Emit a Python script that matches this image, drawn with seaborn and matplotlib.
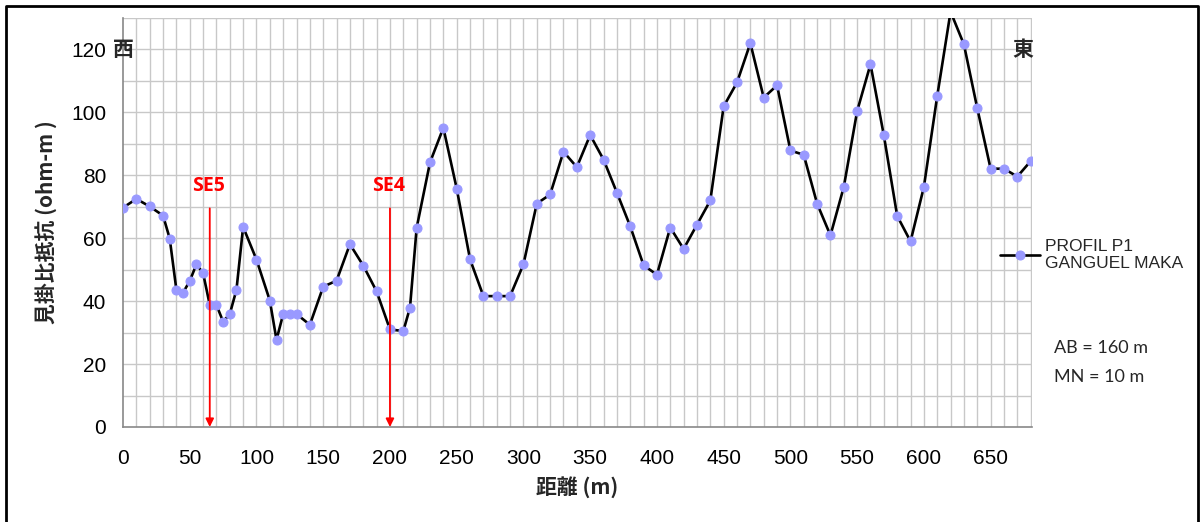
import matplotlib
matplotlib.use("Agg")
import matplotlib.pyplot as plt
import seaborn as sns
import pandas as pd
from matplotlib.lines import Line2D

# ---- data ----
distance_m = [0, 10, 20, 30, 35, 40, 45, 50, 55, 60, 65, 70, 75, 80, 85, 90, 100,
              110, 115, 120, 125, 130, 140, 150, 160, 170, 180, 190, 200, 210, 215,
              220, 230, 240, 250, 260, 270, 280, 290, 300, 310, 320, 330, 340, 350,
              360, 370, 380, 390, 400, 410, 420, 430, 440, 450, 460, 470, 480, 490,
              500, 510, 520, 530, 540, 550, 560, 570, 580, 590, 600, 610, 620, 630,
              640, 650, 660, 670, 680, 690]
resistivity = [69.7, 72.5, 70.1, 67.2, 59.9, 43.6, 42.7, 46.4, 51.7, 48.9, 38.8, 38.8,
               33.5, 35.9, 43.6, 63.6, 53.2, 40.2, 27.7, 35.9, 35.9, 35.9, 32.5, 44.6,
               46.5, 58.1, 51.3, 43.1, 31.0, 30.5, 37.9, 63.3, 84.1, 95.1, 75.8, 53.3,
               41.6, 41.6, 41.6, 51.7, 71.0, 73.9, 87.5, 82.6, 92.8, 85.0, 74.5, 63.8,
               51.4, 48.4, 63.4, 56.6, 64.3, 72.0, 101.9, 109.5, 122.0, 104.7, 108.6,
               87.9, 86.5, 71.0, 60.9, 76.3, 100.4, 115.3, 92.7, 67.1, 59.0, 76.3,
               105.2, 132.0, 121.6, 101.3, 82.1, 82.1, 79.6, 84.5, 89.0]
series_label = "PROFIL P1\nGANGUEL MAKA"
x_ticks = [0, 50, 100, 150, 200, 250, 300, 350, 400, 450, 500, 550, 600, 650]
y_ticks = [0, 20, 40, 60, 80, 100, 120]
markers_x = [65, 200]
markers_top = [69.5, 69.5]
markers_text = ["SE5", "SE4"]
x_label = "距離 (m)"
y_label = "見掛比抵抗 (ohm-m )"
west_label = "西"
east_label = "東"
params_text = ["AB = 160 m", "MN = 10 m"]

df = pd.DataFrame({"distance": distance_m, "rho": resistivity})

sns.set_theme(style="white")
cjk = ["Noto Sans CJK JP", "DejaVu Sans"]
plt.rcParams["font.family"] = ["Liberation Sans", "Noto Sans CJK JP", "DejaVu Sans"]

fig = plt.figure(figsize=(12, 5.22), dpi=100)
ax = fig.add_axes([123 / 1200, 1 - 427 / 522, (1032 - 123) / 1200, (427 - 18) / 522])

# grid
for gx in range(10, 690, 10):
    ax.axvline(gx, color="#c8c8c8", lw=1.0, zorder=0)
for gy in range(10, 140, 10):
    ax.axhline(gy, color="#c8c8c8", lw=1.0, zorder=0)

sns.lineplot(data=df, x="distance", y="rho", ax=ax, color="black", lw=1.9,
             marker="o", markersize=6.5, markerfacecolor="#9999ff",
             markeredgecolor="#9999ff", label=series_label, zorder=3)

ax.set_xlim(0, 681)
ax.set_ylim(0, 130)
ax.set_xticks(x_ticks)
ax.set_yticks(y_ticks)
ax.set_xticks(range(0, 690, 10), minor=True)
ax.set_yticks(range(0, 131, 10), minor=True)
ax.tick_params(axis="both", which="major", labelsize=15, color="#888888",
               length=6, width=1, direction="out", labelcolor="black")
ax.tick_params(axis="both", which="minor", color="#888888", length=5, width=1,
               direction="out")
ax.tick_params(axis="x", which="major", pad=10)
ax.tick_params(axis="y", which="major", pad=6)
for side in ["top", "right"]:
    ax.spines[side].set_visible(False)
for side in ["left", "bottom"]:
    ax.spines[side].set_color("#888888")
    ax.spines[side].set_linewidth(1.2)

ax.set_xlabel(x_label, fontsize=15, fontweight="bold", family=cjk, labelpad=6)
ax.set_ylabel(y_label, fontsize=15, fontweight="bold", family=cjk, labelpad=10)

# direction labels
ax.text(0, 120, west_label, ha="center", va="center", fontsize=15,
        fontweight="bold", family=cjk, zorder=5)
ax.text(674, 120, east_label, ha="center", va="center", fontsize=15,
        fontweight="bold", family=cjk, zorder=5)

# SE markers
for mx, mt, lab in zip(markers_x, markers_top, markers_text):
    ax.annotate("", xy=(mx, 0), xytext=(mx, mt),
                arrowprops=dict(arrowstyle="-|>", color="red", lw=1.3,
                                mutation_scale=12, shrinkA=0, shrinkB=0),
                zorder=4)
    ax.text(mx - 1, 73.5, lab, color="red", fontsize=14, fontweight="bold",
            family=["Open Sans", "DejaVu Sans"], ha="center", va="bottom", zorder=5)

# legend
leg = ax.legend(loc="center left", bbox_to_anchor=(993 / 1200, 1 - 255 / 522),
                bbox_transform=fig.transFigure, frameon=False, fontsize=12.5,
                handlelength=2.3, handletextpad=0.3, borderaxespad=0)

fig.text(1054 / 1200, 1 - 348 / 522, params_text[0], fontsize=13,
         family=["Lato", "DejaVu Sans"], va="center", ha="left")
fig.text(1054 / 1200, 1 - 377 / 522, params_text[1], fontsize=13,
         family=["Lato", "DejaVu Sans"], va="center", ha="left")

# outer border (left, top, right)
fx0, fx1, fy1 = 6 / 1200, 1198 / 1200, 1 - 6 / 522
fig.add_artist(Line2D([fx0, fx0, fx1, fx1], [0, fy1, fy1, 0],
                      transform=fig.transFigure, color="black", lw=2))

fig.savefig("out.png", dpi=100)
